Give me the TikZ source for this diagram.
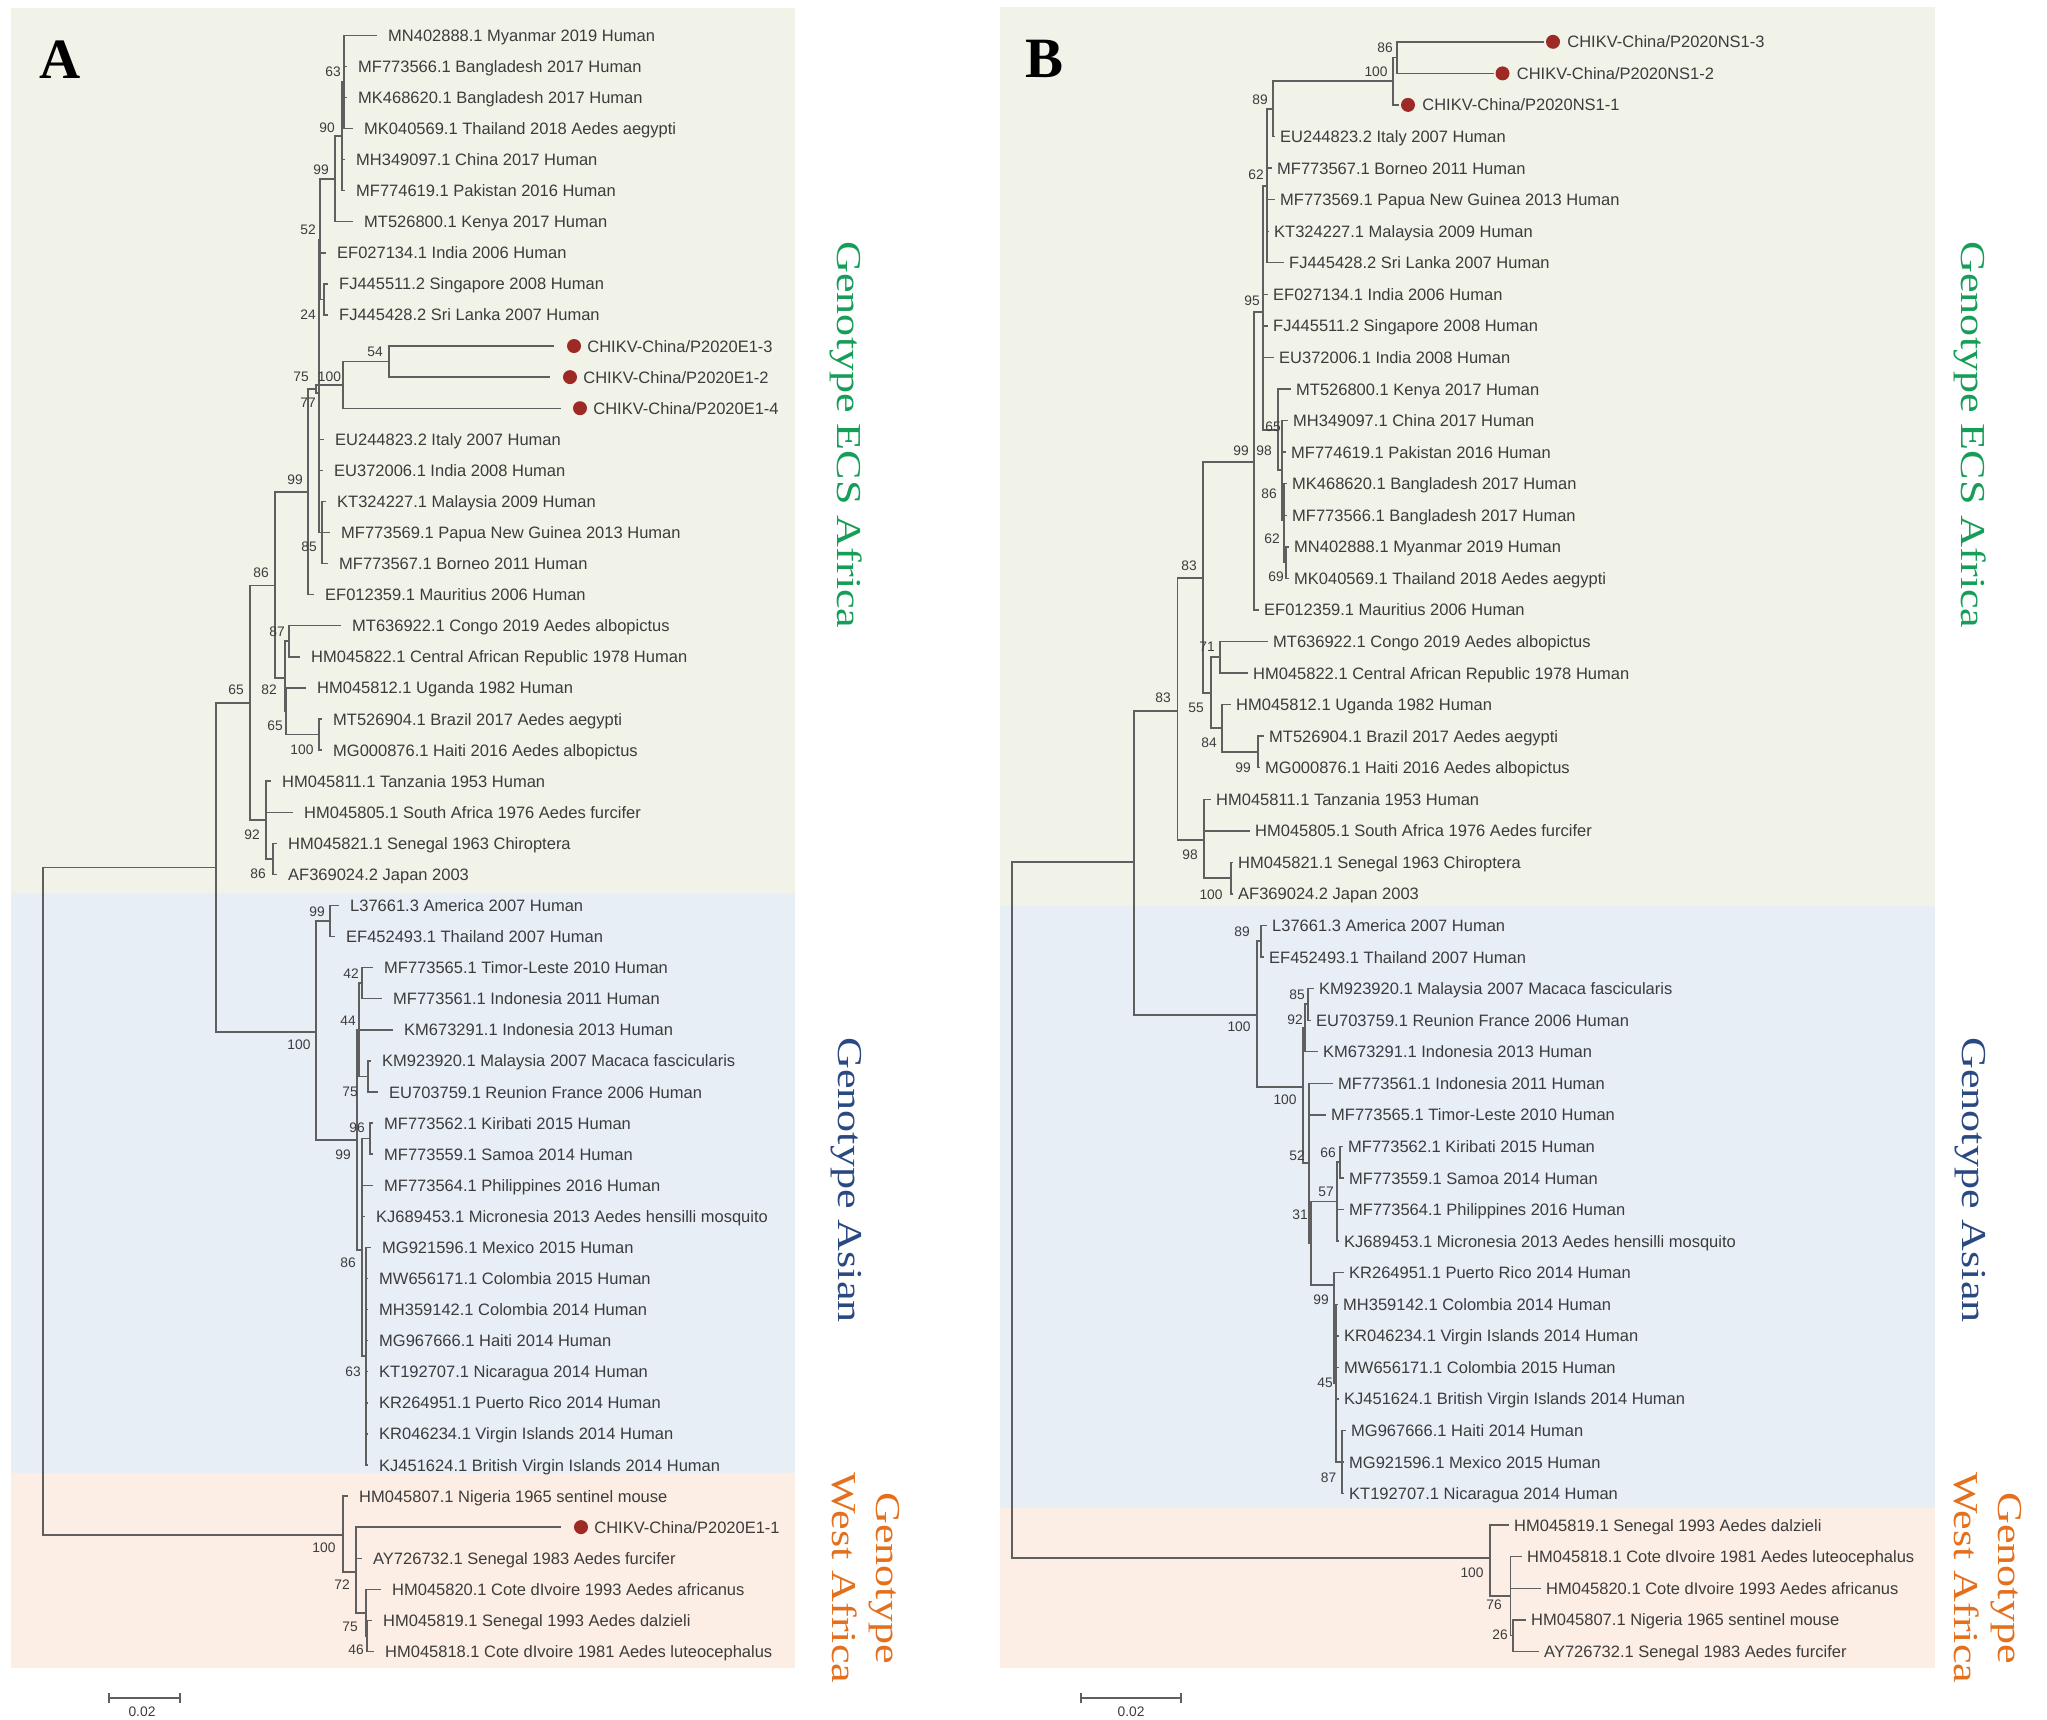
\documentclass[tikz,border=0pt]{standalone}
\usepackage{fontspec}
\setmainfont{Liberation Sans}
\newfontfamily\genofont{Liberation Serif}
\usetikzlibrary{positioning,arrows.meta}

\definecolor{ecsbg}{RGB}{241,243,233}
\definecolor{asianbg}{RGB}{232,238,246}
\definecolor{westbg}{RGB}{252,238,228}
\definecolor{treegray}{RGB}{95,95,95}
\definecolor{labelgray}{RGB}{60,60,60}
\definecolor{dotred}{RGB}{158,42,38}
\definecolor{ecsgreen}{RGB}{22,158,88}
\definecolor{asianblue}{RGB}{42,72,130}
\definecolor{westorange}{RGB}{228,112,30}

\tikzset{
  phylo/.style={
    branch/.style={draw=treegray, line width=1.4pt, line cap=rect},
    leafA/.style={anchor=west, inner xsep=12pt, inner ysep=0pt, text height=12pt, text depth=0pt,
        text=labelgray, font=\fontsize{16.5}{19}\selectfont},
    leafB/.style={leafA, inner xsep=6pt},
    tag/.style={leafA, inner xsep=0pt},
    dot/.style={circle, fill=dotred, minimum size=14pt, inner sep=0pt},
    boot/.style={inner sep=0pt, text=labelgray, font=\fontsize{13.8}{15}\selectfont},
    genotype/.style={rotate=-90, align=center, font=\genofont\fontsize{35}{44}\selectfont},
    panel/.style={font=\genofont\bfseries\fontsize{57}{60}\selectfont},
    scalebar/.style={draw=treegray, line width=1.6pt, arrows={Bar[width=10pt]-Bar[width=10pt]}},
  }
}

\begin{document}
\begin{tikzpicture}[phylo, x=1pt, y=-1pt]
\useasboundingbox (0,0) rectangle (2047,1719);
\fill[ecsbg] (11,8) rectangle (795,893);
\fill[asianbg] (11,893) rectangle (795,1473);
\fill[westbg] (11,1473) rectangle (795,1668);
\fill[ecsbg] (1000,7) rectangle (1935,906);
\fill[asianbg] (1000,906) rectangle (1935,1508);
\fill[westbg] (1000,1508) rectangle (1935,1668);

\node[panel] (panelA) at (60,60) {A};
\node[panel] (panelB) at (1044,59) {B};

% tree A
\node[leafA] (a01) at (376,35.2) {MN402888.1 Myanmar 2019 Human};
\node[leafA] (a02) at (346,66.3) {MF773566.1 Bangladesh 2017 Human};
\node[leafA] (a03) at (346,97.4) {MK468620.1 Bangladesh 2017 Human};
\node[leafA] (a04) at (352,128.4) {MK040569.1 Thailand 2018 Aedes aegypti};
\node[leafA] (a05) at (344,159.5) {MH349097.1 China 2017 Human};
\node[leafA] (a06) at (344,190.6) {MF774619.1 Pakistan 2016 Human};
\node[leafA] (a07) at (352,221.7) {MT526800.1 Kenya 2017 Human};
\node[leafA] (a08) at (325,252.8) {EF027134.1 India 2006 Human};
\node[leafA] (a09) at (327,283.8) {FJ445511.2 Singapore 2008 Human};
\node[leafA] (a10) at (327,314.9) {FJ445428.2 Sri Lanka 2007 Human};
\coordinate (a11t) at (553,346.0);
\node[dot] (a11d) at (574,346.0) {};
\node[tag, right=6pt of a11d] (a11) {CHIKV-China/P2020E1-3};
\coordinate (a12t) at (549,377.1);
\node[dot] (a12d) at (570,377.1) {};
\node[tag, right=6pt of a12d] (a12) {CHIKV-China/P2020E1-2};
\coordinate (a13t) at (560,408.2);
\node[dot] (a13d) at (580,408.2) {};
\node[tag, right=6pt of a13d] (a13) {CHIKV-China/P2020E1-4};
\node[leafA] (a14) at (323,439.2) {EU244823.2 Italy 2007 Human};
\node[leafA] (a15) at (322,470.3) {EU372006.1 India 2008 Human};
\node[leafA] (a16) at (325,501.4) {KT324227.1 Malaysia 2009 Human};
\node[leafA] (a17) at (329,532.5) {MF773569.1 Papua New Guinea 2013 Human};
\node[leafA] (a18) at (327,563.6) {MF773567.1 Borneo 2011 Human};
\node[leafA] (a19) at (313,594.6) {EF012359.1 Mauritius 2006 Human};
\node[leafA] (a20) at (340,625.7) {MT636922.1 Congo 2019 Aedes albopictus};
\node[leafA] (a21) at (299,656.8) {HM045822.1 Central African Republic 1978 Human};
\node[leafA] (a22) at (305,687.9) {HM045812.1 Uganda 1982 Human};
\node[leafA] (a23) at (321,719.0) {MT526904.1 Brazil 2017 Aedes aegypti};
\node[leafA] (a24) at (321,750.1) {MG000876.1 Haiti 2016 Aedes albopictus};
\node[leafA] (a25) at (270,781.1) {HM045811.1 Tanzania 1953 Human};
\node[leafA] (a26) at (292,812.2) {HM045805.1 South Africa 1976 Aedes furcifer};
\node[leafA] (a27) at (276,843.3) {HM045821.1 Senegal 1963 Chiroptera};
\node[leafA] (a28) at (276,874.4) {AF369024.2 Japan 2003};
\node[leafA] (a29) at (338,905.5) {L37661.3 America 2007 Human};
\node[leafA] (a30) at (334,936.6) {EF452493.1 Thailand 2007 Human};
\node[leafA] (a31) at (372,967.6) {MF773565.1 Timor-Leste 2010 Human};
\node[leafA] (a32) at (381,998.7) {MF773561.1 Indonesia 2011 Human};
\node[leafA] (a33) at (392,1029.8) {KM673291.1 Indonesia 2013 Human};
\node[leafA] (a34) at (370,1060.9) {KM923920.1 Malaysia 2007 Macaca fascicularis};
\node[leafA] (a35) at (377,1092.0) {EU703759.1 Reunion France 2006 Human};
\node[leafA] (a36) at (372,1123.0) {MF773562.1 Kiribati 2015 Human};
\node[leafA] (a37) at (372,1154.1) {MF773559.1 Samoa 2014 Human};
\node[leafA] (a38) at (372,1185.2) {MF773564.1 Philippines 2016 Human};
\node[leafA] (a39) at (364,1216.3) {KJ689453.1 Micronesia 2013 Aedes hensilli mosquito};
\node[leafA] (a40) at (370,1247.4) {MG921596.1 Mexico 2015 Human};
\node[leafA] (a41) at (367,1278.5) {MW656171.1 Colombia 2015 Human};
\node[leafA] (a42) at (367,1309.5) {MH359142.1 Colombia 2014 Human};
\node[leafA] (a43) at (367,1340.6) {MG967666.1 Haiti 2014 Human};
\node[leafA] (a44) at (367,1371.7) {KT192707.1 Nicaragua 2014 Human};
\node[leafA] (a45) at (367,1402.8) {KR264951.1 Puerto Rico 2014 Human};
\node[leafA] (a46) at (367,1433.9) {KR046234.1 Virgin Islands 2014 Human};
\node[leafA] (a47) at (367,1465.0) {KJ451624.1 British Virgin Islands 2014 Human};
\node[leafA] (a48) at (347,1496.0) {HM045807.1 Nigeria 1965 sentinel mouse};
\coordinate (a49t) at (560,1527.1);
\node[dot] (a49d) at (581,1527.1) {};
\node[tag, right=6pt of a49d] (a49) {CHIKV-China/P2020E1-1};
\node[leafA] (a50) at (361,1558.2) {AY726732.1 Senegal 1983 Aedes furcifer};
\node[leafA] (a51) at (380,1589.3) {HM045820.1 Cote dIvoire 1993 Aedes africanus};
\node[leafA] (a52) at (371,1620.4) {HM045819.1 Senegal 1993 Aedes dalzieli};
\node[leafA] (a53) at (373,1651.4) {HM045818.1 Cote dIvoire 1981 Aedes luteocephalus};

\coordinate (A_root) at (43,1201);
\coordinate (A_top) at (216,867.5);
\coordinate (A_ecs) at (250,703);
\coordinate (A_86) at (275,585.6);
\coordinate (A_99) at (308,492);
\coordinate (A_75) at (316,389);
\coordinate (A_100c) at (343,385);
\coordinate (A_54) at (389,361.5);
\coordinate (A_77) at (319,393);
\coordinate (A_52) at (320,240);
\coordinate (A_99k) at (335,179);
\coordinate (A_90) at (342,136);
\coordinate (A_63) at (344,82);
\coordinate (A_24) at (324,299.4);
\coordinate (A_85) at (322,532.5);
\coordinate (A_82) at (285,678);
\coordinate (A_87) at (289,641);
\coordinate (A_65) at (286,711);
\coordinate (A_100b) at (319,734.5);
\coordinate (A_92) at (266,820);
\coordinate (A_86s) at (273,858.8);
\coordinate (A_asian) at (316,1032);
\coordinate (A_99t) at (330,921);
\coordinate (A_99b) at (357,1140);
\coordinate (A_44) at (359,1030);
\coordinate (A_42) at (362,983);
\coordinate (A_75r) at (368,1076.5);
\coordinate (A_86m) at (362,1250);
\coordinate (A_96) at (370,1138.6);
\coordinate (A_63m) at (366,1356);
\coordinate (A_west) at (343,1535);
\coordinate (A_72) at (356,1572);
\coordinate (A_75w) at (366,1613);
\coordinate (A_46) at (367,1636);

\foreach \c in {A_top,A_west} \draw[branch] (A_root) |- (\c);
\foreach \c in {A_ecs,A_asian} \draw[branch] (A_top) |- (\c);
\foreach \c in {A_86,A_92} \draw[branch] (A_ecs) |- (\c);
\foreach \c in {A_99,A_82} \draw[branch] (A_86) |- (\c);
\foreach \c in {A_75,a19} \draw[branch] (A_99) |- (\c);
\foreach \c in {A_100c,A_77} \draw[branch] (A_75) |- (\c);
\foreach \c in {A_54,a13t} \draw[branch] (A_100c) |- (\c);
\foreach \c in {a11t,a12t} \draw[branch] (A_54) |- (\c);
\foreach \c in {A_52,a14,a15,A_85} \draw[branch] (A_77) |- (\c);
\foreach \c in {A_99k,a08,A_24} \draw[branch] (A_52) |- (\c);
\foreach \c in {A_90,a07} \draw[branch] (A_99k) |- (\c);
\foreach \c in {A_63,a05,a06} \draw[branch] (A_90) |- (\c);
\foreach \c in {a01,a02,a03,a04} \draw[branch] (A_63) |- (\c);
\foreach \c in {a09,a10} \draw[branch] (A_24) |- (\c);
\foreach \c in {a16,a17,a18} \draw[branch] (A_85) |- (\c);
\foreach \c in {A_87,A_65} \draw[branch] (A_82) |- (\c);
\foreach \c in {a20,a21} \draw[branch] (A_87) |- (\c);
\foreach \c in {a22,A_100b} \draw[branch] (A_65) |- (\c);
\foreach \c in {a23,a24} \draw[branch] (A_100b) |- (\c);
\foreach \c in {a25,a26,A_86s} \draw[branch] (A_92) |- (\c);
\foreach \c in {a27,a28} \draw[branch] (A_86s) |- (\c);
\foreach \c in {A_99t,A_99b} \draw[branch] (A_asian) |- (\c);
\foreach \c in {a29,a30} \draw[branch] (A_99t) |- (\c);
\foreach \c in {A_44,A_86m} \draw[branch] (A_99b) |- (\c);
\foreach \c in {A_42,a33,A_75r} \draw[branch] (A_44) |- (\c);
\foreach \c in {a31,a32} \draw[branch] (A_42) |- (\c);
\foreach \c in {a34,a35} \draw[branch] (A_75r) |- (\c);
\foreach \c in {A_96,a38,a39,A_63m} \draw[branch] (A_86m) |- (\c);
\foreach \c in {a36,a37} \draw[branch] (A_96) |- (\c);
\foreach \c in {a40,a41,a42,a43,a44,a45,a46,a47} \draw[branch] (A_63m) |- (\c);
\foreach \c in {a48,A_72} \draw[branch] (A_west) |- (\c);
\foreach \c in {a49t,a50,A_75w} \draw[branch] (A_72) |- (\c);
\foreach \c in {a51,A_46} \draw[branch] (A_75w) |- (\c);
\foreach \c in {a52,a53} \draw[branch] (A_46) |- (\c);

\node[boot] (A_l01) at (333,72) {63};
\node[boot] (A_l02) at (327,128) {90};
\node[boot] (A_l03) at (321,170) {99};
\node[boot] (A_l04) at (308,230) {52};
\node[boot] (A_l05) at (308,315) {24};
\node[boot] (A_l06) at (375,352) {54};
\node[boot] (A_l07) at (301,377) {75};
\node[boot] (A_l08) at (329.5,377) {100};
\node[boot] (A_l09) at (308,403) {77};
\node[boot] (A_l10) at (295,480) {99};
\node[boot] (A_l11) at (309,547) {85};
\node[boot] (A_l12) at (261,573) {86};
\node[boot] (A_l13) at (277,632) {87};
\node[boot] (A_l14) at (236,690) {65};
\node[boot] (A_l15) at (269,690) {82};
\node[boot] (A_l16) at (275,726) {65};
\node[boot] (A_l17) at (302,750) {100};
\node[boot] (A_l18) at (252,835) {92};
\node[boot] (A_l19) at (258,874) {86};
\node[boot] (A_l20) at (317,912) {99};
\node[boot] (A_l21) at (351,974) {42};
\node[boot] (A_l22) at (348,1021) {44};
\node[boot] (A_l23) at (299,1045) {100};
\node[boot] (A_l24) at (350,1092) {75};
\node[boot] (A_l25) at (357,1128) {96};
\node[boot] (A_l26) at (343,1155) {99};
\node[boot] (A_l27) at (348,1263) {86};
\node[boot] (A_l28) at (353,1372) {63};
\node[boot] (A_l29) at (324,1548) {100};
\node[boot] (A_l30) at (342,1585) {72};
\node[boot] (A_l31) at (350,1627) {75};
\node[boot] (A_l32) at (356,1650) {46};

\coordinate (A_s1) at (108,1698);
\coordinate (A_s2) at (181,1698);
\draw[scalebar] (A_s1) -- (A_s2);
\node[boot] (A_sl) at (142,1712) {0.02};

\node[genotype, text=ecsgreen] (A_g1) at (846,435) {\scalebox{1.26}[1]{Genotype ECS Africa}};
\node[genotype, text=asianblue] (A_g2) at (846,1180) {\scalebox{1.26}[1]{Genotype Asian}};
\node[genotype, text=westorange] (A_g3) at (866,1578) {\scalebox{1.26}[1]{Genotype}\\\scalebox{1.26}[1]{West Africa}};

% tree B
\coordinate (b01t) at (1543.6,41.8);
\node[dot] (b01d) at (1553,41.8) {};
\node[tag, right=7pt of b01d] (b01) {CHIKV-China/P2020NS1-3};
\coordinate (b02t) at (1493,73.4);
\node[dot] (b02d) at (1502.5,73.4) {};
\node[tag, right=7pt of b02d] (b02) {CHIKV-China/P2020NS1-2};
\coordinate (b03t) at (1398,104.9);
\node[dot] (b03d) at (1408,104.9) {};
\node[tag, right=7pt of b03d] (b03) {CHIKV-China/P2020NS1-1};
\node[leafB] (b04) at (1274,136.5) {EU244823.2 Italy 2007 Human};
\node[leafB] (b05) at (1271,168.0) {MF773567.1 Borneo 2011 Human};
\node[leafB] (b06) at (1274,199.6) {MF773569.1 Papua New Guinea 2013 Human};
\node[leafB] (b07) at (1268,231.2) {KT324227.1 Malaysia 2009 Human};
\node[leafB] (b08) at (1283,262.7) {FJ445428.2 Sri Lanka 2007 Human};
\node[leafB] (b09) at (1267,294.3) {EF027134.1 India 2006 Human};
\node[leafB] (b10) at (1267,325.8) {FJ445511.2 Singapore 2008 Human};
\node[leafB] (b11) at (1273,357.4) {EU372006.1 India 2008 Human};
\node[leafB] (b12) at (1290,389.0) {MT526800.1 Kenya 2017 Human};
\node[leafB] (b13) at (1287,420.5) {MH349097.1 China 2017 Human};
\node[leafB] (b14) at (1285,452.1) {MF774619.1 Pakistan 2016 Human};
\node[leafB] (b15) at (1286,483.6) {MK468620.1 Bangladesh 2017 Human};
\node[leafB] (b16) at (1286,515.2) {MF773566.1 Bangladesh 2017 Human};
\node[leafB] (b17) at (1288,546.8) {MN402888.1 Myanmar 2019 Human};
\node[leafB] (b18) at (1288,578.3) {MK040569.1 Thailand 2018 Aedes aegypti};
\node[leafB] (b19) at (1258,609.9) {EF012359.1 Mauritius 2006 Human};
\node[leafB] (b20) at (1267,641.4) {MT636922.1 Congo 2019 Aedes albopictus};
\node[leafB] (b21) at (1247,673.0) {HM045822.1 Central African Republic 1978 Human};
\node[leafB] (b22) at (1230,704.6) {HM045812.1 Uganda 1982 Human};
\node[leafB] (b23) at (1263,736.1) {MT526904.1 Brazil 2017 Aedes aegypti};
\node[leafB] (b24) at (1259,767.7) {MG000876.1 Haiti 2016 Aedes albopictus};
\node[leafB] (b25) at (1210,799.2) {HM045811.1 Tanzania 1953 Human};
\node[leafB] (b26) at (1249,830.8) {HM045805.1 South Africa 1976 Aedes furcifer};
\node[leafB] (b27) at (1232,862.4) {HM045821.1 Senegal 1963 Chiroptera};
\node[leafB] (b28) at (1232,893.9) {AF369024.2 Japan 2003};
\node[leafB] (b29) at (1266,925.5) {L37661.3 America 2007 Human};
\node[leafB] (b30) at (1263,957.0) {EF452493.1 Thailand 2007 Human};
\node[leafB] (b31) at (1313,988.6) {KM923920.1 Malaysia 2007 Macaca fascicularis};
\node[leafB] (b32) at (1310,1020.2) {EU703759.1 Reunion France 2006 Human};
\node[leafB] (b33) at (1317,1051.7) {KM673291.1 Indonesia 2013 Human};
\node[leafB] (b34) at (1332,1083.3) {MF773561.1 Indonesia 2011 Human};
\node[leafB] (b35) at (1325,1114.8) {MF773565.1 Timor-Leste 2010 Human};
\node[leafB] (b36) at (1342,1146.4) {MF773562.1 Kiribati 2015 Human};
\node[leafB] (b37) at (1343,1178.0) {MF773559.1 Samoa 2014 Human};
\node[leafB] (b38) at (1343,1209.5) {MF773564.1 Philippines 2016 Human};
\node[leafB] (b39) at (1338,1241.1) {KJ689453.1 Micronesia 2013 Aedes hensilli mosquito};
\node[leafB] (b40) at (1343,1272.6) {KR264951.1 Puerto Rico 2014 Human};
\node[leafB] (b41) at (1337,1304.2) {MH359142.1 Colombia 2014 Human};
\node[leafB] (b42) at (1338,1335.8) {KR046234.1 Virgin Islands 2014 Human};
\node[leafB] (b43) at (1338,1367.3) {MW656171.1 Colombia 2015 Human};
\node[leafB] (b44) at (1338,1398.9) {KJ451624.1 British Virgin Islands 2014 Human};
\node[leafB] (b45) at (1345,1430.4) {MG967666.1 Haiti 2014 Human};
\node[leafB] (b46) at (1343,1462.0) {MG921596.1 Mexico 2015 Human};
\node[leafB] (b47) at (1343,1493.6) {KT192707.1 Nicaragua 2014 Human};
\node[leafB] (b48) at (1508,1525.1) {HM045819.1 Senegal 1993 Aedes dalzieli};
\node[leafB] (b49) at (1521,1556.7) {HM045818.1 Cote dIvoire 1981 Aedes luteocephalus};
\node[leafB] (b50) at (1540,1588.2) {HM045820.1 Cote dIvoire 1993 Aedes africanus};
\node[leafB] (b51) at (1525,1619.8) {HM045807.1 Nigeria 1965 sentinel mouse};
\node[leafB] (b52) at (1538,1651.4) {AY726732.1 Senegal 1983 Aedes furcifer};

\coordinate (B_root) at (1012,1210);
\coordinate (B_top) at (1134,862);
\coordinate (B_ecs) at (1177.5,711);
\coordinate (B_83) at (1203,578);
\coordinate (B_99) at (1254,462);
\coordinate (B_95) at (1263,312);
\coordinate (B_62) at (1267,186);
\coordinate (B_89) at (1273,109);
\coordinate (B_100) at (1393,81);
\coordinate (B_86) at (1397,57.6);
\coordinate (B_98k) at (1278,430);
\coordinate (B_65) at (1282,470);
\coordinate (B_86a) at (1284,520);
\coordinate (B_62a) at (1286,562);
\coordinate (B_55) at (1211,693);
\coordinate (B_71) at (1220,657);
\coordinate (B_84) at (1222,728);
\coordinate (B_99c) at (1258,752);
\coordinate (B_98) at (1204,840);
\coordinate (B_100d) at (1231,878);
\coordinate (B_asian) at (1257,1015);
\coordinate (B_89a) at (1261,941);
\coordinate (B_100c) at (1303,1087);
\coordinate (B_92) at (1305,1028);
\coordinate (B_85) at (1308,1004);
\coordinate (B_52) at (1309,1163);
\coordinate (B_31) at (1311,1243);
\coordinate (B_57) at (1337,1201.6);
\coordinate (B_66) at (1340,1162);
\coordinate (B_99d) at (1334,1285);
\coordinate (B_45) at (1336,1383);
\coordinate (B_87) at (1342,1462);
\coordinate (B_west) at (1490,1558);
\coordinate (B_76) at (1510.5,1596);
\coordinate (B_26) at (1513,1635.6);

\foreach \c in {B_top,B_west} \draw[branch] (B_root) |- (\c);
\foreach \c in {B_ecs,B_asian} \draw[branch] (B_top) |- (\c);
\foreach \c in {B_83,B_98} \draw[branch] (B_ecs) |- (\c);
\foreach \c in {B_99,B_55} \draw[branch] (B_83) |- (\c);
\foreach \c in {B_95,b19} \draw[branch] (B_99) |- (\c);
\foreach \c in {B_62,b09,b10,b11,B_98k} \draw[branch] (B_95) |- (\c);
\foreach \c in {B_89,b05,b06,b07,b08} \draw[branch] (B_62) |- (\c);
\foreach \c in {B_100,b04} \draw[branch] (B_89) |- (\c);
\foreach \c in {B_86,b03t} \draw[branch] (B_100) |- (\c);
\foreach \c in {b01t,b02t} \draw[branch] (B_86) |- (\c);
\foreach \c in {b12,B_65} \draw[branch] (B_98k) |- (\c);
\foreach \c in {b13,b14,B_86a} \draw[branch] (B_65) |- (\c);
\foreach \c in {b15,b16,B_62a} \draw[branch] (B_86a) |- (\c);
\foreach \c in {b17,b18} \draw[branch] (B_62a) |- (\c);
\foreach \c in {B_71,B_84} \draw[branch] (B_55) |- (\c);
\foreach \c in {b20,b21} \draw[branch] (B_71) |- (\c);
\foreach \c in {b22,B_99c} \draw[branch] (B_84) |- (\c);
\foreach \c in {b23,b24} \draw[branch] (B_99c) |- (\c);
\foreach \c in {b25,b26,B_100d} \draw[branch] (B_98) |- (\c);
\foreach \c in {b27,b28} \draw[branch] (B_100d) |- (\c);
\foreach \c in {B_89a,B_100c} \draw[branch] (B_asian) |- (\c);
\foreach \c in {b29,b30} \draw[branch] (B_89a) |- (\c);
\foreach \c in {B_92,B_52} \draw[branch] (B_100c) |- (\c);
\foreach \c in {B_85,b33} \draw[branch] (B_92) |- (\c);
\foreach \c in {b31,b32} \draw[branch] (B_85) |- (\c);
\foreach \c in {b34,b35,B_31} \draw[branch] (B_52) |- (\c);
\foreach \c in {B_57,B_99d} \draw[branch] (B_31) |- (\c);
\foreach \c in {B_66,b38,b39} \draw[branch] (B_57) |- (\c);
\foreach \c in {b36,b37} \draw[branch] (B_66) |- (\c);
\foreach \c in {b40,B_45} \draw[branch] (B_99d) |- (\c);
\foreach \c in {b41,b42,b43,b44,B_87} \draw[branch] (B_45) |- (\c);
\foreach \c in {b45,b46,b47} \draw[branch] (B_87) |- (\c);
\foreach \c in {b48,B_76} \draw[branch] (B_west) |- (\c);
\foreach \c in {b49,b50,B_26} \draw[branch] (B_76) |- (\c);
\foreach \c in {b51,b52} \draw[branch] (B_26) |- (\c);

\node[boot] (B_l01) at (1385,48) {86};
\node[boot] (B_l02) at (1376,72) {100};
\node[boot] (B_l03) at (1260,100) {89};
\node[boot] (B_l04) at (1256,175) {62};
\node[boot] (B_l05) at (1252,301) {95};
\node[boot] (B_l06) at (1273,427) {65};
\node[boot] (B_l07) at (1241,451) {99};
\node[boot] (B_l08) at (1264,451) {98};
\node[boot] (B_l09) at (1269,494) {86};
\node[boot] (B_l10) at (1272,539) {62};
\node[boot] (B_l11) at (1276,577) {69};
\node[boot] (B_l12) at (1189,566) {83};
\node[boot] (B_l13) at (1207,647) {71};
\node[boot] (B_l14) at (1163,698) {83};
\node[boot] (B_l15) at (1196,708) {55};
\node[boot] (B_l16) at (1209,743) {84};
\node[boot] (B_l17) at (1243,768) {99};
\node[boot] (B_l18) at (1190,855) {98};
\node[boot] (B_l19) at (1211,895) {100};
\node[boot] (B_l20) at (1242,932) {89};
\node[boot] (B_l21) at (1297,995) {85};
\node[boot] (B_l22) at (1295,1020) {92};
\node[boot] (B_l23) at (1239,1027) {100};
\node[boot] (B_l24) at (1285,1100) {100};
\node[boot] (B_l25) at (1328,1153) {66};
\node[boot] (B_l26) at (1297,1156) {52};
\node[boot] (B_l27) at (1326,1192) {57};
\node[boot] (B_l28) at (1300,1215) {31};
\node[boot] (B_l29) at (1321,1300) {99};
\node[boot] (B_l30) at (1325,1383) {45};
\node[boot] (B_l31) at (1328.5,1478) {87};
\node[boot] (B_l32) at (1472,1573) {100};
\node[boot] (B_l33) at (1494,1605) {76};
\node[boot] (B_l34) at (1500,1635) {26};

\coordinate (B_s1) at (1080,1698);
\coordinate (B_s2) at (1182,1698);
\draw[scalebar] (B_s1) -- (B_s2);
\node[boot] (B_sl) at (1131,1712) {0.02};

\node[genotype, text=ecsgreen] (B_g1) at (1970,435) {\scalebox{1.26}[1]{Genotype ECS Africa}};
\node[genotype, text=asianblue] (B_g2) at (1970,1180) {\scalebox{1.26}[1]{Genotype Asian}};
\node[genotype, text=westorange] (B_g3) at (1988,1578) {\scalebox{1.26}[1]{Genotype}\\\scalebox{1.26}[1]{West Africa}};
\end{tikzpicture}
\end{document}
